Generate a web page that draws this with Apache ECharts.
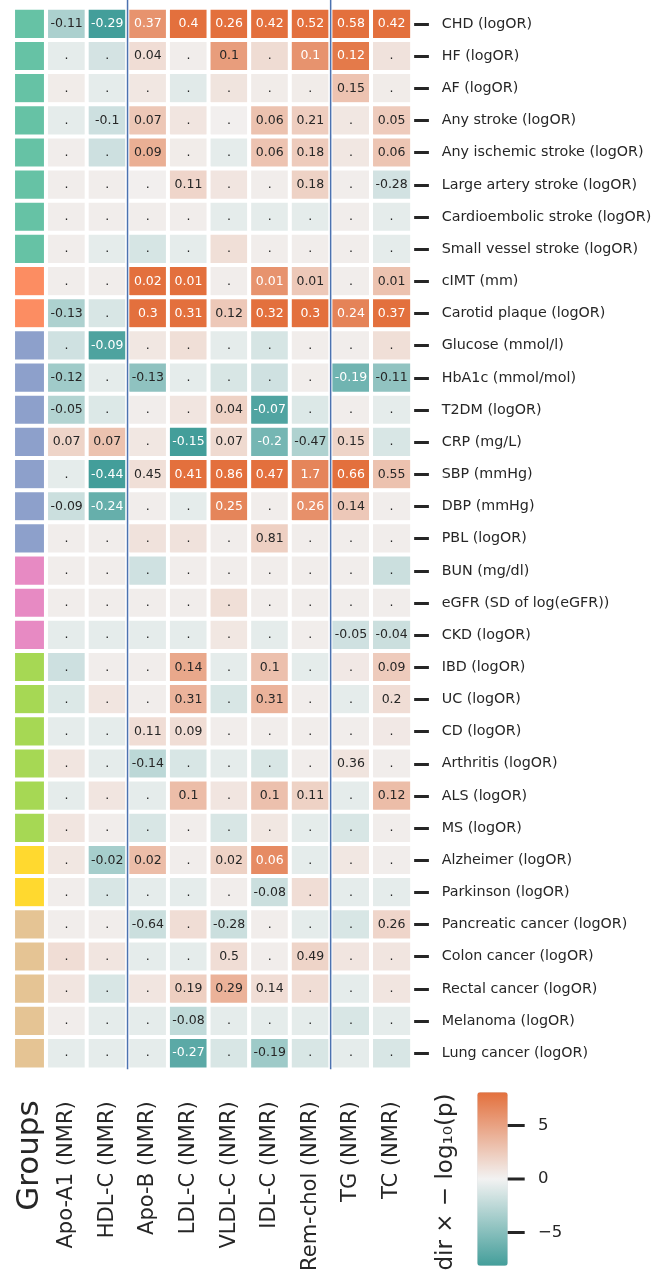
<!DOCTYPE html>
<html><head><meta charset="utf-8">
<script src="https://cdn.jsdelivr.net/npm/echarts@6/dist/echarts.min.js"></script>
<style>html,body{margin:0;padding:0;background:#fff}#chart{width:670px;height:1278px}</style>
</head><body><div id="chart"></div>
<script>
const outcomes = ['CHD (logOR)','HF (logOR)','AF (logOR)','Any stroke (logOR)','Any ischemic stroke (logOR)','Large artery stroke (logOR)','Cardioembolic stroke (logOR)','Small vessel stroke (logOR)','cIMT (mm)','Carotid plaque (logOR)','Glucose (mmol/l)','HbA1c (mmol/mol)','T2DM (logOR)','CRP (mg/L)','SBP (mmHg)','DBP (mmHg)','PBL (logOR)','BUN (mg/dl)','eGFR (SD of log(eGFR))','CKD (logOR)','IBD (logOR)','UC (logOR)','CD (logOR)','Arthritis (logOR)','ALS (logOR)','MS (logOR)','Alzheimer (logOR)','Parkinson (logOR)','Pancreatic cancer (logOR)','Colon cancer (logOR)','Rectal cancer (logOR)','Melanoma (logOR)','Lung cancer (logOR)'];
const outcomeGroup = [0,0,0,0,0,0,0,0,1,1,2,2,2,2,2,2,2,3,3,3,4,4,4,4,4,4,5,5,6,6,6,6,6];
const groupColors = ['#66c2a5','#fc8d62','#8da0cb','#e78ac3','#a6d854','#ffd92f','#e5c494'];
const exposures = ['Apo-A1 (NMR)','HDL-C (NMR)','Apo-B (NMR)','LDL-C (NMR)','VLDL-C (NMR)','IDL-C (NMR)','Rem-chol (NMR)','TG (NMR)','TC (NMR)'];
// dir x -log10(p), one row per outcome, columns follow exposures
const signedLogP = [
  [-3.3,-8.1,5.9,8.1,8.1,8.1,8.1,8.1,8.1],
  [-0.6,-1.4,1.3,0.3,5.3,1.4,5.9,7.5,1.0],
  [0.4,-0.6,0.7,-0.8,0.9,0.4,0.4,2.9,0.4],
  [-0.6,-1.7,2.7,0.8,0.2,3.0,2.3,0.7,2.4],
  [0.3,-1.7,4.2,0.4,-0.6,2.9,2.4,0.7,2.8],
  [0.3,0.3,0.2,1.8,0.8,0.3,2.0,0.3,-1.5],
  [0.3,0.3,0.3,0.3,-0.6,-0.6,-0.6,0.3,-0.6],
  [0.3,-0.6,-1.3,-0.6,1.2,0.3,0.3,0.3,-0.6],
  [0.3,0.3,8.1,8.1,0.3,5.9,2.6,0.3,3.0],
  [-3.2,-1.2,8.1,8.1,2.6,8.1,8.1,6.9,8.1],
  [-1.6,-7.6,0.7,1.2,-0.6,-1.3,0.3,0.3,1.2],
  [-3.8,-0.6,-4.6,-0.6,-1.2,-1.6,0.3,-6.0,-4.5],
  [-2.9,-1.0,0.3,0.8,2.0,-7.5,-1.0,0.3,-0.6],
  [1.9,3.0,0.7,-8.1,1.5,-5.8,-3.1,1.9,-1.2],
  [-0.6,-8.1,1.2,8.1,8.1,8.1,6.8,8.1,3.0],
  [-1.8,-6.5,0.3,-0.6,6.8,0.3,6.1,2.6,0.3],
  [0.3,0.3,1.0,1.0,0.3,2.1,0.3,0.3,0.3],
  [0.3,0.3,-1.6,0.3,0.3,0.3,0.3,0.3,-1.8],
  [0.3,0.3,0.3,0.3,1.2,0.3,0.3,0.3,0.3],
  [-0.6,-0.6,-0.6,-0.6,0.7,-0.6,0.3,-1.6,-1.8],
  [-1.7,0.3,0.3,4.6,-0.6,3.1,-0.6,0.6,2.4],
  [-1.0,0.8,0.3,3.9,-1.2,3.9,0.3,-0.6,1.3],
  [-0.6,-0.6,1.3,1.3,0.3,0.3,0.3,0.3,0.6],
  [0.8,-0.6,-2.5,-1.2,-0.6,-1.2,0.3,0.9,0.3],
  [-0.6,0.8,-0.6,3.3,0.8,3.1,2.0,-0.6,3.3],
  [0.8,0.3,-1.2,0.3,-1.2,0.7,-0.6,-1.2,0.3],
  [0.7,-3.5,3.3,0.3,2.0,6.4,-0.6,0.7,0.3],
  [0.3,-1.2,-0.6,-0.6,0.3,-1.8,1.3,-0.6,-0.6],
  [0.3,0.3,-1.8,1.3,-1.8,0.3,-0.6,-1.2,1.8],
  [1.3,0.8,-0.6,-0.6,1.3,0.3,1.9,0.8,0.8],
  [0.8,-1.2,0.8,2.2,4.0,1.3,1.3,-0.6,0.8],
  [0.3,-0.6,-0.6,-2.3,-0.6,-0.6,-0.6,-1.2,-0.6],
  [-0.6,-0.6,-0.6,-7.0,-1.2,-3.9,-1.2,-0.6,-1.2]
];
const effectLabels = [
  ['-0.11','-0.29','0.37','0.4','0.26','0.42','0.52','0.58','0.42'],
  ['.','.','0.04','.','0.1','.','0.1','0.12','.'],
  ['.','.','.','.','.','.','.','0.15','.'],
  ['.','-0.1','0.07','.','.','0.06','0.21','.','0.05'],
  ['.','.','0.09','.','.','0.06','0.18','.','0.06'],
  ['.','.','.','0.11','.','.','0.18','.','-0.28'],
  ['.','.','.','.','.','.','.','.','.'],
  ['.','.','.','.','.','.','.','.','.'],
  ['.','.','0.02','0.01','.','0.01','0.01','.','0.01'],
  ['-0.13','.','0.3','0.31','0.12','0.32','0.3','0.24','0.37'],
  ['.','-0.09','.','.','.','.','.','.','.'],
  ['-0.12','.','-0.13','.','.','.','.','-0.19','-0.11'],
  ['-0.05','.','.','.','0.04','-0.07','.','.','.'],
  ['0.07','0.07','.','-0.15','0.07','-0.2','-0.47','0.15','.'],
  ['.','-0.44','0.45','0.41','0.86','0.47','1.7','0.66','0.55'],
  ['-0.09','-0.24','.','.','0.25','.','0.26','0.14','.'],
  ['.','.','.','.','.','0.81','.','.','.'],
  ['.','.','.','.','.','.','.','.','.'],
  ['.','.','.','.','.','.','.','.','.'],
  ['.','.','.','.','.','.','.','-0.05','-0.04'],
  ['.','.','.','0.14','.','0.1','.','.','0.09'],
  ['.','.','.','0.31','.','0.31','.','.','0.2'],
  ['.','.','0.11','0.09','.','.','.','.','.'],
  ['.','.','-0.14','.','.','.','.','0.36','.'],
  ['.','.','.','0.1','.','0.1','0.11','.','0.12'],
  ['.','.','.','.','.','.','.','.','.'],
  ['.','-0.02','0.02','.','0.02','0.06','.','.','.'],
  ['.','.','.','.','.','-0.08','.','.','.'],
  ['.','.','-0.64','.','-0.28','.','.','.','0.26'],
  ['.','.','.','.','0.5','.','0.49','.','.'],
  ['.','.','.','0.19','0.29','0.14','.','.','.'],
  ['.','.','.','-0.08','.','.','.','.','.'],
  ['.','.','.','-0.27','.','-0.19','.','.','.']
];
const colorbarTicks = [-5, 0, 5];
const dividerPairs = [[1, 2], [6, 7]];
const vLimit = 8.1;

const FONT = 'DejaVu Sans';
const TXT = '#262626';
const cmap = [[67,158,154],[242,242,242],[227,112,61]];
function hex(c){return '#'+c.map(v=>Math.round(v).toString(16).padStart(2,'0')).join('');}
function colorAt(v){
  const t = Math.max(-1, Math.min(1, v / vLimit));
  const a = cmap[1], b = t < 0 ? cmap[0] : cmap[2], f = Math.abs(t);
  return a.map((x,i)=>x+(b[i]-x)*f);
}
function lum(c){
  const l = c.map(v=>{v/=255;return v<=0.03928?v/12.92:Math.pow((v+0.055)/1.055,2.4);});
  return 0.2126*l[0]+0.7152*l[1]+0.0722*l[2];
}
const heatData = [];
signedLogP.forEach((row, r) => row.forEach((v, c) => {
  heatData.push({value:[c, r, v], label:{color: lum(colorAt(v)) < 0.408 ? '#ffffff' : TXT}});
}));
const groupData = outcomeGroup.map((g, r) => ({value:[0, r, g], itemStyle:{color: groupColors[g]}}));

const gTop = 8, gH = 1061.3;
const chart = echarts.init(document.getElementById('chart'), null, {renderer:'canvas'});
chart.setOption({
  animation:false,
  backgroundColor:'#ffffff',
  textStyle:{fontFamily:FONT},
  grid:[
    {left:46.3, top:gTop, width:365.6, height:gH},
    {left:13.3, top:gTop, width:32.4, height:gH},
    {left:477.3, top:1092.3, width:30.4, height:173.4}
  ],
  xAxis:[
    {gridIndex:0, type:'category', data:exposures, axisLine:{show:false}, axisTick:{show:false},
     axisLabel:{rotate:90, margin:32, fontSize:21, color:TXT, fontFamily:FONT, interval:0}},
    {gridIndex:1, type:'category', data:['Groups'], axisLine:{show:false}, axisTick:{show:false},
     axisLabel:{rotate:90, margin:31, fontSize:31, color:TXT, fontFamily:FONT}},
    {gridIndex:2, type:'value', show:false, min:0, max:1}
  ],
  yAxis:[
    {gridIndex:0, type:'category', data:outcomes, inverse:true, position:'right',
     axisLine:{show:false}, splitLine:{show:false},
     axisTick:{show:true, alignWithLabel:true, length:17, lineStyle:{width:3, color:TXT}},
     axisLabel:{margin:29.8, fontSize:14.3, color:TXT, fontFamily:FONT, interval:0}},
    {gridIndex:1, type:'category', data:outcomes, inverse:true, show:false},
    {gridIndex:2, type:'value', min:-vLimit, max:vLimit, position:'right',
     axisLine:{show:false}, splitLine:{show:false}, axisTick:{show:false},
     axisLabel:{customValues:colorbarTicks, margin:30.3, fontSize:16.5, color:TXT, fontFamily:FONT,
       formatter:v=>String(v).replace('-','\u2212')}}
  ],
  visualMap:{
    type:'continuous', seriesIndex:0, dimension:2, min:-vLimit, max:vLimit,
    inRange:{color:cmap.map(hex)}, calculable:false, hoverLink:false,
    left:477.3, top:1092.3, itemWidth:30.4, itemHeight:173.4, padding:0, text:null, showLabel:false
  },
  graphic:[{
    type:'text', x:446, y:1182, rotation:Math.PI/2,
    style:{text:'dir \u00d7 \u2212 log\u2081\u2080(p)', font:'23px "DejaVu Sans"', fill:TXT, align:'center', verticalAlign:'middle'}
  }],
  series:[
    {type:'heatmap', xAxisIndex:0, yAxisIndex:0, data:heatData,
     itemStyle:{borderColor:'#ffffff', borderWidth:4},
     label:{show:true, fontSize:12.5, fontFamily:FONT,
       formatter:p=>effectLabels[p.value[1]][p.value[0]]},
     emphasis:{disabled:true}},
    {type:'heatmap', xAxisIndex:1, yAxisIndex:1, data:groupData,
     itemStyle:{borderColor:'#ffffff', borderWidth:4}, label:{show:false}, emphasis:{disabled:true}},
    {type:'custom', xAxisIndex:0, yAxisIndex:0, data:dividerPairs, silent:true, z:10, clip:false,
     renderItem:(params, api)=>{
       const a = api.coord([api.value(0), 0]);
       const b = api.coord([api.value(1), 0]);
       const x = (a[0] + b[0]) / 2;
       const cs = params.coordSys;
       return {type:'line', shape:{x1:x, y1:0, x2:x, y2:cs.y + cs.height},
               style:{stroke:'#4c72b0', lineWidth:1.5}};
     }},
    {type:'custom', xAxisIndex:2, yAxisIndex:2, data:colorbarTicks.map(v=>[1, v]), silent:true, z:10, clip:false,
     renderItem:(params, api)=>{
       const p = api.coord([1, api.value(1)]);
       return {type:'line', shape:{x1:p[0], y1:p[1], x2:p[0] + 17, y2:p[1]},
               style:{stroke:TXT, lineWidth:3}};
     }}
  ]
});
</script></body></html>
